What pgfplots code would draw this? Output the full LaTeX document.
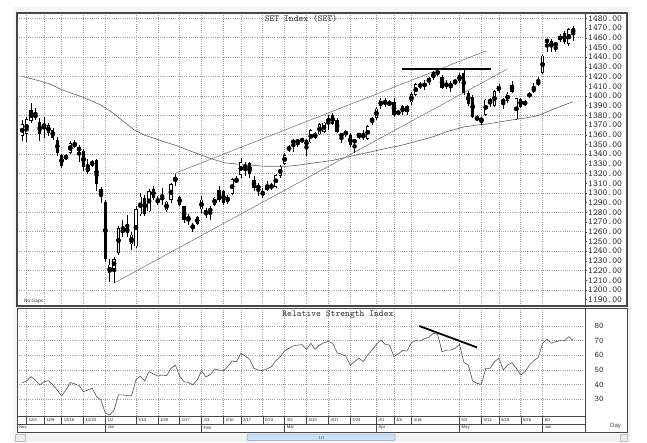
\documentclass[border=0pt]{standalone}
\usepackage{fontspec}
\setmainfont{Liberation Sans}
\usepackage{pgfplots}
\usepackage{pgfplotstable}
\pgfplotsset{compat=1.18}
\definecolor{gridc}{RGB}{160,160,160}
\definecolor{framec}{RGB}{70,70,70}
\definecolor{mac}{RGB}{85,85,85}
\definecolor{trendc}{RGB}{110,110,110}
\definecolor{rsic}{RGB}{80,80,80}
\definecolor{thumb}{RGB}{205,225,245}
\definecolor{thumbd}{RGB}{120,160,210}

\pgfplotstableread{
i O H L C
0 1358.5 1375 1354 1371
1 1361 1378 1353 1376
2 1374 1393 1372 1385
3 1382 1388 1375 1377
4 1373 1377 1354 1361
5 1371 1378 1357 1368
6 1362 1372 1359 1370
7 1365 1367 1355 1357
8 1355 1358 1338 1341
9 1339 1340 1326 1328
10 1336.5 1340 1334 1337
11 1341 1354 1340 1351
12 1351 1355 1346 1348
13 1347 1349 1332 1343
14 1343 1345 1323 1327
15 1321.5 1335 1320 1327.5
16 1328 1334 1327 1333
17 1334 1335 1302 1309
18 1304.5 1306 1290 1299
19 1291 1293 1229 1232
20 1217 1232 1208 1226
21 1222 1234 1207 1232
22 1238 1266 1236 1264
23 1263 1272 1255 1259
24 1265.5 1277 1255 1258.5
25 1247 1260 1241 1257
26 1245 1286 1243 1283
27 1278 1300 1276 1296
28 1295 1298 1276 1278
29 1281 1304 1280 1302
30 1304 1307 1293 1295
31 1293 1297 1288 1290
32 1296 1305 1288 1293
33 1282 1292 1280 1291
34 1293 1310 1290 1309
35 1314 1320 1307 1315
36 1296 1297 1287 1288
37 1286 1287 1269 1272
38 1275 1278 1267 1272.5
39 1265 1269 1260 1265.5
40 1268 1276 1267 1275
41 1283 1297 1279 1293
42 1282 1284 1274 1278
43 1284.5 1287 1272 1280
44 1288 1296 1286 1295
45 1303 1307 1291 1293
46 1301.5 1303 1288 1289.5
47 1291 1298 1289 1296
48 1299 1315 1298 1314
49 1313.5 1317 1310 1312
50 1318.5 1335.5 1315 1332
51 1329 1332 1317 1325.5
52 1331 1332 1315 1320
53 1313.5 1317 1301.5 1305
54 1307.5 1310 1296.5 1305
55 1297.5 1305 1294.5 1301.5
56 1304.5 1312 1301.5 1305.5
57 1306.5 1310 1303 1307
58 1306.5 1320 1305 1318.5
59 1317.5 1329 1315 1327
60 1330 1341 1329 1339
61 1345.5 1349.5 1342.5 1346
62 1354.5 1356 1342.5 1351
63 1353 1355 1347.5 1353.5
64 1354 1357 1352 1354.5
65 1354.5 1356 1338 1348.5
66 1352 1365.5 1351 1365
67 1360.5 1363 1356 1357.5
68 1360.5 1372.5 1359.5 1371
69 1363 1373.5 1361.5 1372.5
70 1372.5 1380 1365 1377
71 1380 1382 1370 1371.5
72 1375 1377 1361.5 1363
73 1357.5 1362 1351 1361.5
74 1363 1365 1358 1360.5
75 1359.5 1361.5 1347.5 1349.5
76 1352 1355 1341 1354.5
77 1359.5 1361.5 1356 1360
78 1359.5 1365 1355 1357.5
79 1356 1370 1355 1369
80 1373.5 1378.5 1370 1377
81 1377.5 1388.5 1375.5 1387
82 1389.5 1397.5 1387 1396
83 1395.5 1397.5 1388.5 1391.5
84 1391.5 1395.5 1389.5 1392.5
85 1394 1397.5 1378.5 1380
86 1383.5 1385.5 1380 1382
87 1383 1391 1380.5 1389.5
88 1383 1391 1380 1389.5
89 1393.5 1404.5 1390.5 1402
90 1401 1413 1399.5 1412
91 1412 1414.5 1407 1409.5
92 1409.5 1416.5 1406 1413.5
93 1418 1420 1411.5 1414.5
94 1418 1425.5 1416.5 1424.5
95 1425.5 1427.5 1421 1422.5
96 1420 1421.5 1407 1408.5
97 1411 1416.5 1407 1411.5
98 1409 1415.5 1404.5 1413
99 1414.5 1416.5 1411.5 1415
100 1415.5 1423.5 1413 1421.5
101 1423.5 1427 1401 1403.5
102 1403.5 1405 1390 1391.5
103 1399 1401 1377.5 1378.5
104 1377 1380.5 1374 1376.5
105 1375.5 1378.5 1370 1375.5
106 1380.5 1397 1379.5 1396
107 1395 1397.5 1389 1394.5
108 1390 1406 1389 1405
109 1405 1412 1403.5 1410.5
110 1394.5 1398 1387 1395
111 1395 1404.5 1392.5 1402.5
112 1411.5 1415.5 1402.5 1404.5
113 1376 1398 1375 1397.5
114 1397 1398 1388 1389
115 1392.5 1396 1389.5 1392.5
116 1399 1404.5 1397.5 1402.5
117 1404.5 1413 1403.5 1408.5
118 1411.5 1420 1410.5 1415.5
119 1423.5 1442 1422.5 1441.5
120 1457.5 1458.5 1445.5 1456
121 1456.5 1458.5 1445.5 1450
122 1453 1454 1445 1453.5
123 1462 1463.5 1456 1457.5
124 1464.5 1466.5 1454 1456
125 1454 1470 1451 1469
126 1470.5 1472.5 1456.5 1463.5
}\candles

\pgfplotstableread{
i v
0 41.4
1 42.5
2 45.5
3 43.2
4 39.8
5 42.0
6 42.7
7 39.8
8 36.4
9 32.3
10 36.4
11 41.4
12 40.5
13 39.3
14 35.2
15 36.4
16 37.5
17 31.8
18 29.5
19 20.5
20 19.3
21 22.7
22 33.0
23 33.0
24 32.5
25 32.5
26 43.2
27 45.9
28 42.5
29 48.9
30 47.3
31 45.9
32 46.6
33 46.1
34 51.1
35 53.4
36 45.9
37 42.0
38 41.6
39 39.8
40 43.2
41 49.3
42 45.3
43 46.8
44 50.7
45 50.0
46 49.5
47 52.3
48 56.1
49 55.6
50 61.4
51 59.5
52 57.3
53 51.1
54 50.0
55 49.5
56 50.7
57 52.3
58 56.4
59 59.1
60 63.0
61 64.8
62 66.4
63 67.0
64 67.3
65 64.1
66 68.2
67 64.1
68 67.0
69 68.6
70 69.5
71 68.2
72 61.8
73 60.7
74 59.5
75 53.4
76 55.7
77 58.0
78 55.7
79 60.2
80 63.6
81 67.5
82 70.5
83 67.5
84 67.0
85 59.1
86 61.0
87 63.3
88 63.0
89 68.6
90 70.0
91 69.8
92 71.4
93 72.3
94 75.0
95 74.3
96 62.5
97 63.6
98 63.6
99 64.8
100 67.5
101 55.2
102 53.4
103 42.5
104 40.9
105 40.2
106 51.1
107 51.1
108 55.7
109 58.0
110 50.0
111 53.4
112 55.0
113 51.1
114 46.6
115 48.9
116 53.4
117 56.4
118 58.6
119 68.2
120 70.9
121 68.2
122 69.3
123 70.0
124 70.0
125 72.7
126 70.0
}\rsi

\pgfplotstableread{
i v
0 1420
2.5 1417.3
6.3 1412.4
9 1406.5
14 1398.5
17.8 1391
19.4 1386.5
21 1381.5
25.5 1365.3
28 1359.5
30.7 1355.4
33 1352
35.3 1348.7
38 1344
40.6 1339.5
43.4 1335
46.3 1331
50.9 1329
55.5 1327.5
60 1327.3
63 1328.5
66 1330.5
71 1333.5
75.3 1338
80 1342.6
84.3 1347
86.4 1348.7
90 1353
94 1358
97 1363
101 1368
104 1370
106.2 1371
110.8 1374.4
116.9 1378.6
119 1381.5
121 1385.5
125.9 1394
}\ma

\pgfplotsset{
  common/.style={
    scale only axis, width=568pt, anchor=south west,
    xmin=-1.2, xmax=128.7,
    axis line style={draw=framec, line width=0.5pt},
    xtick={1,5,9,14,19,26,31,36,41,46,50,55,60,65,70,75,81,85,89,100,105,109,114,119},
    grid=major,
    grid style={dash pattern=on 0.8pt off 1.4pt, gridc, line width=0.5pt},
    tick align=outside,
    ytick pos=right, yticklabel pos=right,
    scaled y ticks=false,
    clip=true,
  },
  candle/.style n args={2}{only marks, mark=none, forget plot,
    error bars/.cd, y dir=both, y explicit, error mark=none,
    error bar style={line width=#1, draw=#2}},
}

\begin{document}
\begin{tikzpicture}[x=1pt,y=1pt]
\fill[white] (0,0) rectangle (647,442);
\fill[gray!8] (13,9) rectangle (631,435);
\fill[white] (17,136) rectangle (627,429);
\fill[white] (17,10) rectangle (627,134);

% ---------------- upper panel ----------------
\begin{axis}[common,
  at={(17pt,136pt)}, height=293pt,
  ymin=1183.4, ymax=1485.5,
  xticklabels={}, xtick style={draw=none},
  ytick={1200,1220,...,1480},
  extra y ticks={1190,1210,...,1470},
  extra y tick style={grid=none},
  ytick style={draw=framec, line width=0.4pt},
  major tick length=2pt,
  yticklabel style={font=\ttfamily\fontsize{9.2}{10}\selectfont, text=black!85, anchor=west, inner sep=0pt, xshift=1pt,
    /pgf/number format/.cd, fixed, fixed zerofill, precision=2, 1000 sep={}, assume math mode=true},
]
\addplot[mac, line width=0.55pt, mark=none] table[x=i, y=v] {\ma};
\addplot[trendc, line width=0.5pt, mark=none] coordinates {(34.9,1320.2) (106,1446.3)};
\addplot[trendc, line width=0.5pt, mark=none] coordinates {(20.9,1206.8) (110.8,1427.4)};
% wicks
\addplot[candle={0.7pt}{black}]
  table[x=i, y expr={(\thisrow{H}+\thisrow{L})/2}, y error expr={(\thisrow{H}-\thisrow{L})/2}] {\candles};
% bodies
\addplot[candle={3.2pt}{black}]
  table[x=i, y expr={(\thisrow{O}+\thisrow{C})/2}, y error expr={max(abs(\thisrow{C}-\thisrow{O})/2,0.45)}] {\candles};
% hollow interior of rising candles
\addplot[candle={1.8pt}{white}]
  table[x=i, y expr={(\thisrow{O}+\thisrow{C})/2}, y error expr={max((\thisrow{C}-\thisrow{O})/2-0.7,0)}] {\candles};
% resistance line
\addplot[black, line width=1.8pt, mark=none] coordinates {(86.8,1427.4) (107.1,1427.4)};
\node[anchor=north, font=\ttfamily\fontsize{9.2}{10}\selectfont, text=black!80, inner sep=0pt, yshift=-1.5pt] at (rel axis cs:0.5,1) {SET Index (SET)};
\node[anchor=south west, font=\fontsize{4.8}{5}\selectfont, text=black!80, inner sep=0pt, xshift=7pt, yshift=2pt] at (rel axis cs:0,0) {No Gaps};
\end{axis}

% ---------------- lower panel ----------------
\begin{axis}[common,
  at={(17pt,26pt)}, height=108pt,
  ymin=18.6, ymax=92.3,
  xtick pos=bottom,
  xticklabels={12/2,12/9,12/16,12/23,1/2,1/13,1/20,1/27,2/3,2/10,2/17,2/24,3/3,3/10,3/17,3/24,4/1,4/8,4/16,5/2,5/12,5/19,5/26,6/2},
  xtick style={draw=framec, line width=0.4pt},
  xticklabel style={font=\fontsize{4.2}{5}\selectfont, text=black!85, anchor=north west, inner sep=0pt, xshift=2pt, yshift=6pt},
  major tick length=8pt,
  extra x ticks={-1.2,19,41,60,81,100,119},
  extra x tick labels={Nov,Jan,Feb,Mar,Apr,May,Jun},
  extra x tick style={grid=none, major tick length=16pt, xticklabel style={yshift=0.2pt}},
  ytick={30,40,...,80},
  ytick style={draw=none},
  yticklabel style={font=\ttfamily\fontsize{8.5}{10}\selectfont, text=black!85, anchor=west, inner sep=0pt, xshift=1.5pt,
    /pgf/number format/assume math mode=true},
]
\addplot[rsic, line width=0.6pt, mark=none] table[x=i, y=v] {\rsi};
\addplot[black, line width=1.8pt, mark=none] coordinates {(90.8,80) (104,65.4)};
\node[anchor=north, font=\ttfamily\fontsize{9.2}{10}\selectfont, text=black!80, inner sep=0pt, yshift=-2.5pt] at (rel axis cs:0.565,1) {Relative Strength Index};
\end{axis}

% ---------------- frames and furniture ----------------
\draw[framec, line width=1.6pt] (17,136) rectangle (627,429);
\draw[framec, line width=0.8pt] (17,10) rectangle (627,134);
\draw[framec, line width=0.4pt] (17,18) -- (585,18);
\draw[framec, line width=0.5pt] (585,26) -- (585,10);
\node[font=\fontsize{6}{7}\selectfont, text=black!75, inner sep=0pt] at (615.5,16) {Day};
% scrollbar
\fill[gray!10] (13,0.5) rectangle (631,8.5);
\draw[gray!50, fill=gray!15, line width=0.4pt] (15,1) rectangle (25,8);
\draw[gray!50, fill=gray!15, line width=0.4pt] (620,1) rectangle (627,8);
\draw[thumbd, fill=thumb, line width=0.5pt, rounded corners=1pt] (247,1.5) rectangle (395,8);
\draw[thumbd, line width=0.4pt] (319,3) -- (319,6.5) (321,3) -- (321,6.5) (323,3) -- (323,6.5);
\end{tikzpicture}
\end{document}
